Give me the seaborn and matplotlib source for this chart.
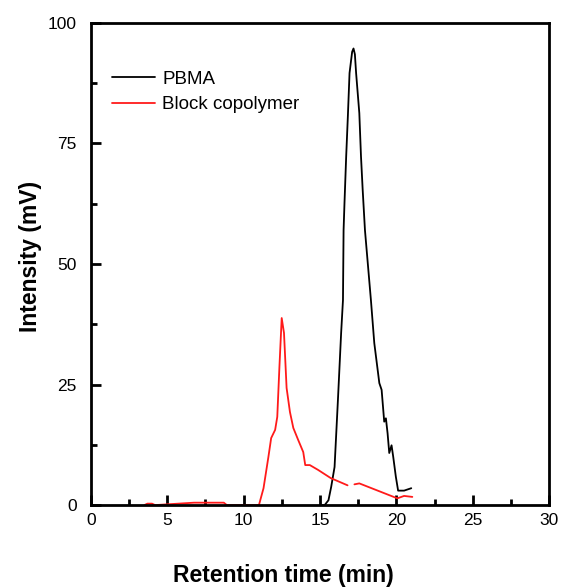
import numpy as np
import pandas as pd
import matplotlib
matplotlib.use("Agg")
import matplotlib.pyplot as plt
import seaborn as sns
from matplotlib.ticker import MultipleLocator

# PBMA trace (retention time in min, intensity in mV)
pbma_t = [15.0, 15.3, 15.55, 15.73, 15.95, 16.17, 16.38, 16.5, 16.54, 16.6, 16.71,
          16.82, 16.93, 17.1, 17.19, 17.28, 17.36, 17.57, 17.68, 17.79, 17.94,
          18.33, 18.55, 18.88, 19.03, 19.2, 19.31, 19.42, 19.53, 19.68, 19.79,
          19.96, 20.11, 20.5, 20.97]
pbma_i = [0.0, 0.0, 1.0, 3.8, 7.9, 21.8, 35.7, 42.5, 57.0, 62.7, 72.3,
          80.6, 89.6, 94.0, 94.7, 93.5, 89.6, 81.3, 72.3, 65.4, 57.0,
          42.5, 33.6, 25.3, 23.9, 17.3, 18.0, 14.9, 10.8, 12.4, 10.0,
          5.9, 3.0, 3.0, 3.5]

# Block copolymer trace (gap around 17 min as in the original)
block_t = [3.5, 3.7, 4.0, 4.2, 6.75, 8.7, 8.9, 11.0, 11.3, 11.62, 11.8, 12.06, 12.2,
           12.34, 12.49, 12.64, 12.81, 13.03, 13.25, 13.57, 13.9, 14.03, 14.33,
           14.87, 15.7, 16.8, 16.85, 17.25, 17.57, 20.06, 20.5, 21.04]
block_i = [0.0, 0.3, 0.3, 0.0, 0.5, 0.5, 0.0, 0.0, 3.5, 10.0, 13.9, 15.6, 18.3,
           28.6, 38.8, 35.7, 24.3, 19.3, 16.0, 13.5, 11.0, 8.3, 8.3,
           7.3, 5.6, 4.1, np.nan, 4.3, 4.5, 1.4, 1.9, 1.7]

pbma = pd.DataFrame({"time": pbma_t, "intensity": pbma_i})
block = pd.DataFrame({"time": block_t, "intensity": block_i})

sns.set_style("ticks")
plt.rcParams["font.family"] = ["Liberation Sans", "DejaVu Sans"]
plt.rcParams["text.color"] = "black"
plt.rcParams["axes.labelcolor"] = "black"
plt.rcParams["xtick.color"] = "black"
plt.rcParams["ytick.color"] = "black"
plt.rcParams["axes.edgecolor"] = "black"

fig = plt.figure(figsize=(5.61, 5.88), dpi=100)
ax = fig.add_axes([0.162, 0.141, 0.817, 0.82])

# plain matplotlib line for the trace with the gap (seaborn drops NaN rows)
sns.lineplot(data=pbma, x="time", y="intensity", ax=ax, color="black",
             linewidth=1.3, label="PBMA", sort=False)
ax.plot(block["time"], block["intensity"], color="#ff1a1a", linewidth=1.3,
        label="Block copolymer")

ax.set_xlim(0, 30)
ax.set_ylim(0, 100)
ax.xaxis.set_major_locator(MultipleLocator(5))
ax.xaxis.set_minor_locator(MultipleLocator(2.5))
ax.yaxis.set_major_locator(MultipleLocator(25))
ax.yaxis.set_minor_locator(MultipleLocator(12.5))
ax.tick_params(which="major", direction="in", length=7, width=2, labelsize=12.5)
ax.tick_params(axis="x", which="major", pad=6)
ax.tick_params(axis="y", which="major", pad=10)
ax.tick_params(which="minor", direction="in", length=4, width=2)
for sp in ax.spines.values():
    sp.set_linewidth(2)
    sp.set_visible(True)

ax.set_xlabel("Retention time (min)", fontsize=16.5, fontweight="bold")
ax.set_ylabel("Intensity (mV)", fontsize=16.5, fontweight="bold")
ax.xaxis.set_label_coords(0.42, -0.123)
ax.yaxis.set_label_coords(-0.106, 0.515)

ax.legend(loc="upper left", frameon=False, fontsize=13.5, handlelength=2.3,
          handletextpad=0.36, labelspacing=0.45, borderaxespad=0,
          bbox_to_anchor=(0.03, 0.917))

fig.savefig("out.png", dpi=100)
